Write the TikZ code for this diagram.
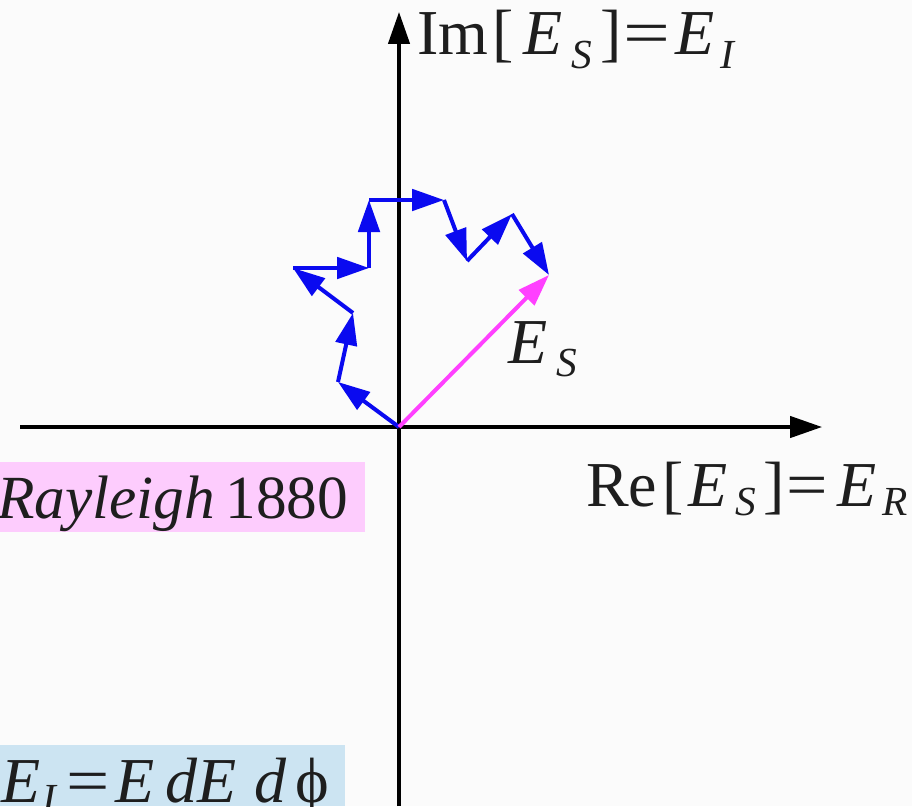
\documentclass[tikz,border=0pt]{standalone}
\usepackage{fontspec}
\usepackage{graphicx}
\setmainfont{Liberation Serif}
\usetikzlibrary{arrows.meta}
\definecolor{bgc}{HTML}{FBFBFB}
\definecolor{txt}{HTML}{1E1E1E}
\definecolor{vblue}{HTML}{0A0AF0}
\definecolor{vmag}{HTML}{FF40FF}
\definecolor{pinkbox}{HTML}{FDCCFD}
\definecolor{bluebox}{HTML}{CCE4F2}
% \mysub{kern before}{drop}{letter}
\newcommand\mysub[3]{\kern#1\raisebox{-#2}{\fontsize{31}{31}\selectfont\itshape #3}}
\newcommand\myeq[1]{\scalebox{#1}[1]{=}}
\tikzset{
  axis/.style={line width=2.6pt, draw=black, -{Triangle[length=24pt,width=16pt]}},
  phasor/.style={line width=3pt, draw=vblue, -{Triangle[length=24pt,width=16pt]}},
  result/.style={line width=3pt, draw=vmag, -{Triangle[length=24pt,width=16pt]}},
  lab/.style={inner sep=0pt, anchor=base west, text=txt, font=\fontsize{48}{56}\selectfont},
  labs/.style={lab, font=\fontsize{46}{54}\selectfont}
}
\begin{document}
\begin{tikzpicture}[x=0.75pt,y=-0.75pt]
\fill[bgc] (0,0) rectangle (912,806);
\useasboundingbox (0,0) rectangle (912,806);
% highlight boxes
\fill[pinkbox] (0,462) rectangle (365,532);
\fill[bluebox] (0,745) rectangle (345,806);
% axes
\coordinate (xl) at (20,427);
\coordinate (xr) at (822,427);
\coordinate (yb) at (399,806);
\coordinate (yt) at (399,12);
\draw[axis] (xl) -- (xr);
\draw[axis] (yb) -- (yt);
% phasor chain
\coordinate (p0) at (399,427);
\coordinate (p1) at (338,382);
\coordinate (p2) at (353,313);
\coordinate (p3) at (293,268);
\coordinate (p4) at (369,268);
\coordinate (p5) at (369,200);
\coordinate (p6) at (444,200);
\coordinate (p7) at (467,261);
\coordinate (p8) at (512,214);
\coordinate (p9) at (549,275);
\draw[phasor] (p0) -- (p1);
\draw[phasor] (p1) -- (p2);
\draw[phasor] (p2) -- (p3);
\draw[phasor] (p3) -- (p4);
\draw[phasor] (p4) -- (p5);
\draw[phasor] (p5) -- (p6);
\draw[phasor] (p6) -- (p7);
\draw[phasor] (p7) -- (p8);
\draw[phasor] (p8) -- (p9);
\draw[result] (p0) -- (p9);
% labels
\node[lab] (imlab) at (417,55) {Im\kern3pt[\kern7pt\textit{E}\mysub{7pt}{10pt}{S}\kern6pt]\kern1.5pt\myeq{1.3}\kern4pt\textit{E}\mysub{4pt}{10pt}{I}};
\node[lab] (relab) at (586,506) {Re\kern4pt[\kern3pt\textit{E}\mysub{6pt}{7pt}{S}\kern6pt]\kern1pt\myeq{1.15}\kern7.5pt\textit{E}\mysub{4pt}{7pt}{R}};
\node[lab] (eslab) at (508,363) {\textit{E}\mysub{7pt}{10pt}{S}};
\node[labs] (ray) at (-3,518) {\textit{Rayleigh}\,1880};
\node[lab] (eilab) at (1,802) {\textit{E}\mysub{1.5pt}{8pt}{I}\kern8pt\myeq{1.2}\kern4pt\textit{E}\kern8pt\textit{dE}\kern14pt\textit{d}\kern6pt ϕ};
\end{tikzpicture}
\end{document}
